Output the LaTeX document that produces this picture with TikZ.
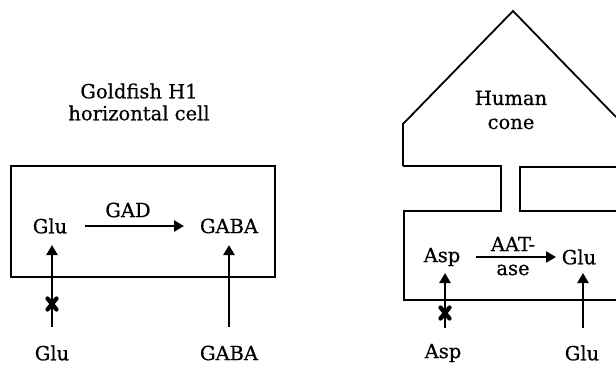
\documentclass[tikz,border=0pt]{standalone}
\usepackage{fontspec}
\setmainfont{DejaVu Serif}[FakeBold=0.6]
\usetikzlibrary{arrows.meta}
\begin{document}
\begin{tikzpicture}[x=1pt,y=-1pt,
  lbl/.style={inner sep=0pt,font=\fontsize{19.5}{22}\selectfont},
  outline/.style={line width=1.8pt,line join=miter},
  arr/.style={line width=2.8pt,-{Triangle[length=10pt,width=11pt]}},
  crossmark/.style={line width=4.3pt,line cap=round}]
\useasboundingbox (0,0) rectangle (616,372);
% ---------- left: goldfish H1 horizontal cell ----------
\node[lbl,align=center] (title1) at (139,102) {Goldfish H1\\horizontal cell};
\draw[outline] (11,166) rectangle (275,277);
\node[lbl] (glu1) at (50,226) {Glu};
\node[lbl] (gaba1) at (229,226) {GABA};
\node[lbl] (gad) at (128,210) {GAD};
\draw[arr] ([xshift=35pt]glu1.center) -- ([xshift=-45pt]gaba1.center);
\node[lbl] (glu1b) at (52,353) {Glu};
\node[lbl] (gaba1b) at (229,353) {GABA};
\coordinate (t1) at (52,327);
\coordinate (h1) at (52,245);
\coordinate (t2) at (229,327);
\coordinate (h2) at (229,245);
\draw[arr] (t1) -- (h1);
\draw[arr] (t2) -- (h2);
\coordinate (x1) at (52,304);
\draw[crossmark] ([shift={(-4.5,-5.5)}]x1) -- ([shift={(4.5,5.5)}]x1);
\draw[crossmark] ([shift={(-4.5,5.5)}]x1) -- ([shift={(4.5,-5.5)}]x1);
% ---------- right: human cone ----------
\draw[outline] (403,166) -- (403,124) -- (513,11) -- (616,117);
\draw[outline] (403,166) -- (501,166) -- (501,211) -- (404,211) -- (404,300) -- (617,300);
\draw[outline] (617,167) -- (520,167) -- (520,211) -- (617,211);
\node[lbl,align=center,font=\fontsize{19.5}{24}\selectfont] (cone) at (511,110) {Human\\cone};
\node[lbl] (asp2) at (442,257) {Asp};
\node[lbl] (glu2) at (579,257) {Glu};
\node[lbl] (aat) at (513,244) {AAT-};
\node[lbl] (ase) at (513,270) {ase};
\draw[arr] ([xshift=34pt]asp2.center) -- ([xshift=-23pt]glu2.center);
\node[lbl] (asp2b) at (443,353) {Asp};
\node[lbl] (glu2b) at (582,353) {Glu};
\coordinate (t3) at (445,328);
\coordinate (h3) at (445,273);
\coordinate (t4) at (583,328);
\coordinate (h4) at (583,273);
\draw[arr] (t3) -- (h3);
\draw[arr] (t4) -- (h4);
\coordinate (x2) at (445,313);
\draw[crossmark] ([shift={(-4.5,-5.5)}]x2) -- ([shift={(4.5,5.5)}]x2);
\draw[crossmark] ([shift={(-4.5,5.5)}]x2) -- ([shift={(4.5,-5.5)}]x2);
\end{tikzpicture}
\end{document}
